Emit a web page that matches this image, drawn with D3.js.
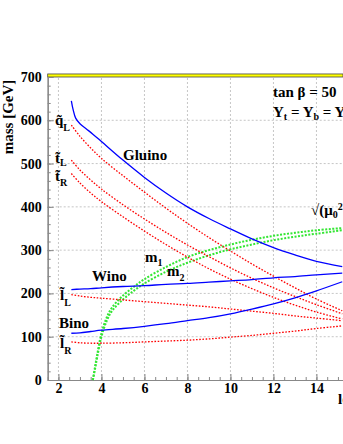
<!DOCTYPE html>
<html>
<head>
<meta charset="utf-8">
<script src="https://cdn.jsdelivr.net/npm/d3@7"></script>
<style>
body { margin: 0; background: #fff; }
text { font-family: "Liberation Serif", "DejaVu Serif", serif; font-weight: bold; }
</style>
</head>
<body>
<div id="chart"></div>
<script>
// values (x axis is the log scale, y is mass in GeV)
const mass_x = [2.6, 3, 3.5, 4, 5, 6, 7, 8, 9, 10, 11, 12, 13, 14, 15.2];
const squark_qL = [589, 563, 536, 512, 472, 434, 397, 362, 329, 298, 268, 240, 213, 187, 160];
const stop_L = [508, 485, 462, 441, 405, 372, 341, 312, 285, 259, 235, 213, 193, 174, 153];
const stop_R = [477, 455, 432, 412, 377, 344, 313, 284, 257, 233, 211, 191, 173, 157, 141];
const slepton_L = [197, 194, 191, 189, 185, 181, 177, 173, 169, 164, 159, 154, 148, 143, 137];
const slepton_R = [88, 86, 85, 85, 86, 88, 90, 92, 95, 99, 103, 108, 113, 119, 125];
const wino = [209, 210, 211, 213, 216, 218, 221, 223, 226, 229, 232, 236, 239, 243, 247];
const bino = [108, 109, 112, 115, 119, 124, 130, 137, 144, 153, 164, 176, 190, 206, 227];

const gluino_x = [2.6, 2.68, 2.8, 3, 3.3, 3.6, 4, 5, 6, 7, 8, 9, 10, 11, 12, 13, 14, 15.2];
const gluino = [645, 625, 605, 592, 580, 568, 551, 508, 468, 432, 400, 373, 349, 326, 306, 289, 274, 262];

const green_x = [3.6, 3.7, 3.8, 4, 4.25, 4.5, 5, 5.5, 6, 7, 8, 9, 10, 11, 12, 13, 14, 15.2];
const green_m1 = [0, 30, 58, 108, 145, 168, 195, 215, 233, 261, 284, 300, 313, 324, 333, 340, 346, 351];
const green_m2 = [0, 25, 52, 100, 137, 160, 186, 206, 223, 250, 271, 288, 302, 313, 323, 331, 338, 346];

const x_ticks = [2, 4, 6, 8, 10, 12, 14];
const y_ticks = [0, 100, 200, 300, 400, 500, 600, 700];

const width = 343, height = 444;

const svg = d3.select("#chart")
              .append("svg")
              .attr("width", width)
              .attr("height", height)
              .style("background", "white");

const x = d3.scaleLinear().domain([1.5, 16]).range([47.7, 47.7 + 14.5 * 21.5]);
const y = d3.scaleLinear().domain([0, 700]).range([380, 77]);

// grid
svg.append("g").selectAll("line")
   .data(x_ticks)
   .join("line")
   .attr("x1", d => x(d)).attr("x2", d => x(d))
   .attr("y1", y(0)).attr("y2", y(700))
   .attr("stroke", "#b8b8b8")
   .attr("stroke-width", 0.8)
   .attr("stroke-dasharray", "2,2");
svg.append("g").selectAll("line")
   .data(y_ticks.filter(d => d > 0 && d < 700))
   .join("line")
   .attr("x1", x(1.5)).attr("x2", width)
   .attr("y1", d => y(d)).attr("y2", d => y(d))
   .attr("stroke", "#b8b8b8")
   .attr("stroke-width", 0.8)
   .attr("stroke-dasharray", "2,2");

// excluded band above 700
svg.append("rect")
   .attr("x", x(1.5))
   .attr("y", y(707))
   .attr("width", width - x(1.5))
   .attr("height", y(700) - y(707))
   .attr("fill", "#ffff00")
   .attr("stroke", "#444")
   .attr("stroke-width", 0.8);

// axes
function style_axis(g) {
    g.select(".domain").attr("stroke", "#888").attr("stroke-width", 1.2);
    g.selectAll(".tick line").attr("stroke", "#888");
    g.selectAll("text")
     .attr("font-family", "Liberation Serif, serif")
     .attr("font-weight", "bold")
     .attr("font-size", 14)
     .attr("fill", "#000");
}

svg.append("g")
   .attr("transform", `translate(0,${y(0)})`)
   .call(d3.axisBottom(x).tickValues(d3.range(1.5, 16, 0.5)).tickSizeInner(-3).tickSizeOuter(0).tickFormat(""))
   .call(style_axis);
svg.append("g")
   .attr("transform", `translate(0,${y(0)})`)
   .call(d3.axisBottom(x).tickValues(x_ticks).tickSizeInner(-6).tickSizeOuter(0).tickPadding(3).tickFormat(d3.format("d")))
   .call(style_axis);

svg.append("g")
   .attr("transform", `translate(${x(1.5)},0)`)
   .call(d3.axisLeft(y).tickValues(d3.range(0, 701, 20)).tickSizeInner(-3).tickSizeOuter(0).tickFormat(""))
   .call(style_axis);
svg.append("g")
   .attr("transform", `translate(${x(1.5)},0)`)
   .call(d3.axisLeft(y).tickValues(y_ticks).tickSizeInner(-6).tickSizeOuter(0).tickPadding(6).tickFormat(d3.format("d")))
   .call(style_axis);

// curves
const line = d3.line()
               .x(d => x(d[0]))
               .y(d => y(d[1]))
               .curve(d3.curveCatmullRom.alpha(0.5));

function draw_curve(xs, ys, color, width_px, dash) {
    svg.append("path")
       .datum(xs.map((v, i) => [v, ys[i]]))
       .attr("d", line)
       .attr("fill", "none")
       .attr("stroke", color)
       .attr("stroke-width", width_px)
       .attr("stroke-dasharray", dash);
}

draw_curve(green_x, green_m1, "#33e633", 2, "2,1.5");
draw_curve(green_x, green_m2, "#33e633", 2, "2,1.5");

[squark_qL, stop_L, stop_R, slepton_L, slepton_R].forEach(s => {
    draw_curve(mass_x, s, "#ff0000", 1.3, "1.6,1.6");
});

draw_curve(gluino_x, gluino, "#0000ff", 1.3, null);
draw_curve(mass_x, wino, "#0000ff", 1.3, null);
draw_curve(mass_x, bino, "#0000ff", 1.3, null);

// labels
function label(px, py, main, sub, sub_dy, size) {
    const t = svg.append("text")
                 .attr("x", px)
                 .attr("y", py)
                 .attr("font-size", size || 15)
                 .text(main);
    if(sub) {
        t.append("tspan")
         .attr("dy", sub_dy)
         .attr("font-size", 10)
         .text(sub);
    }
    return t;
}

// sparticle names with a combining tilde
label(55, 125, "q\u0303", "L", 6);
label(55, 163, "t\u0303", "L", 3);
label(55, 181, "t\u0303", "R", 5);
label(60, 300, "l\u0303", "L", 6);
label(60, 348, "l\u0303", "R", 6);

label(123, 160, "Gluino");
label(92, 281, "Wino");
label(59, 328, "Bino");
label(145, 262, "m", "1", 4);
label(167, 276, "m", "2", 5);

label(273, 97, "tan \u03B2 = 50", null, 0, 15);

const yuk = svg.append("text").attr("x", 273).attr("y", 117).attr("font-size", 15);
yuk.append("tspan").text("Y");
yuk.append("tspan").attr("dy", 3).attr("font-size", 10).text("t");
yuk.append("tspan").attr("dy", -3).text(" = Y");
yuk.append("tspan").attr("dy", 3).attr("font-size", 10).text("b");
yuk.append("tspan").attr("dy", -3).text(" = Y");
yuk.append("tspan").attr("dy", 3).attr("font-size", 10).text("\u03C4");

const mu = svg.append("text").attr("x", 311).attr("y", 215).attr("font-size", 15);
mu.append("tspan").text("\u221A(\u03BC");
mu.append("tspan").attr("dy", 3).attr("font-size", 10).text("0");
mu.append("tspan").attr("dy", -8).attr("font-size", 10).text("2");
mu.append("tspan").attr("dy", 5).text(" + M");

svg.append("text")
   .attr("x", 338)
   .attr("y", 404)
   .attr("font-size", 15)
   .text("log(M/GeV)");

svg.append("text")
   .attr("transform", `translate(13,117) rotate(-90)`)
   .attr("text-anchor", "middle")
   .attr("font-size", 15)
   .text("mass [GeV]");
</script>
</body>
</html>
